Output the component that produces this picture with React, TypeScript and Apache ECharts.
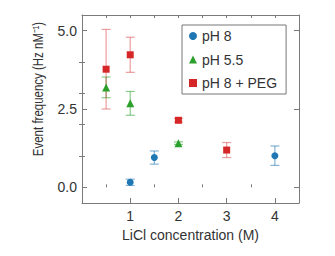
import React, { useEffect, useRef } from "react";
import * as echarts from "echarts";

// Data
const seriesNames = ["pH 8", "pH 5.5", "pH 8 + PEG"];
const ph8X = [1, 1.5, 4];
const ph8Y = [0.16, 0.95, 1.01];
const ph8Err = [0.1, 0.21, 0.31];
const ph55X = [0.5, 1, 2];
const ph55Y = [3.19, 2.68, 1.41];
const ph55Err = [0.33, 0.38, 0.04];
const pegX = [0.5, 1, 2, 3];
const pegY = [3.77, 4.23, 2.14, 1.19];
const pegErr = [1.27, 0.56, 0.06, 0.24];
const yMajorTicks = [0, 2.5, 5];
const yMinorTicks = [1, 2, 3, 4];
const xMajorTicks = [1, 2, 3, 4];
const xMinorTicks = [0.5, 1.5, 2.5, 3.5];
const xTopTicks = [0.5, 1, 1.5, 2, 2.5, 3, 3.5, 4];

const colors = ["#1f77b4", "#2ca02c", "#d62728"];
const barColors = ["rgba(31,119,180,0.55)", "rgba(44,160,44,0.55)", "rgba(214,39,40,0.45)"];
const symbols = ["circle", "triangle", "rect"];

const FONT = "Liberation Sans, Arial, Helvetica, sans-serif";
const AXIS = "#7a7a7a";
const TEXT = "#333333";

export default function App() {
  const ref = useRef<HTMLDivElement>(null);
  useEffect(() => {
    if (!ref.current) return;
    const chart = echarts.init(ref.current, undefined, { renderer: "svg" });

    const groups = [
      { x: ph8X, y: ph8Y, e: ph8Err },
      { x: ph55X, y: ph55Y, e: ph55Err },
      { x: pegX, y: pegY, e: pegErr },
    ];

    const xBase = { type: "value", min: 0, max: 4.5, gridIndex: 0, splitLine: { show: false } };
    const yBase = { type: "value", min: -0.5, max: 5.5, gridIndex: 0, splitLine: { show: false } };
    const line = { show: true, onZero: false, lineStyle: { color: AXIS, width: 1 } };
    const noLine = { show: false };

    const xAxis: any[] = [
      {
        ...xBase,
        position: "bottom",
        axisLine: line,
        axisTick: { show: true, inside: true, length: 5, customValues: xMajorTicks, lineStyle: { color: AXIS } },
        axisLabel: { show: true, customValues: xMajorTicks, margin: 6, color: TEXT, fontSize: 14, fontFamily: FONT },
        name: "LiCl concentration (M)",
        nameLocation: "middle",
        nameGap: 22,
        nameTextStyle: { color: TEXT, fontSize: 14, fontFamily: FONT },
      },
      {
        ...xBase,
        position: "bottom",
        axisLine: noLine,
        axisTick: { show: true, inside: true, length: 3, customValues: xMinorTicks, lineStyle: { color: AXIS } },
        axisLabel: { show: false },
      },
      {
        ...xBase,
        position: "top",
        axisLine: line,
        axisTick: { show: true, inside: true, length: 3, customValues: xTopTicks, lineStyle: { color: AXIS } },
        axisLabel: { show: false },
      },
    ];

    const yAxis: any[] = [
      {
        ...yBase,
        position: "left",
        axisLine: line,
        axisTick: { show: true, inside: true, length: 5, customValues: yMajorTicks, lineStyle: { color: AXIS } },
        axisLabel: {
          show: true,
          customValues: yMajorTicks,
          margin: 5,
          color: TEXT,
          fontSize: 14,
          fontFamily: FONT,
          formatter: (v: number) => v.toFixed(1),
        },
      },
      {
        ...yBase,
        position: "left",
        axisLine: noLine,
        axisTick: { show: true, inside: true, length: 3, customValues: yMinorTicks, lineStyle: { color: AXIS } },
        axisLabel: { show: false },
      },
      {
        ...yBase,
        position: "right",
        axisLine: line,
        axisTick: { show: true, inside: true, length: 5, customValues: yMajorTicks, lineStyle: { color: AXIS } },
        axisLabel: { show: false },
      },
      {
        ...yBase,
        position: "right",
        axisLine: noLine,
        axisTick: { show: true, inside: true, length: 3, customValues: yMinorTicks, lineStyle: { color: AXIS } },
        axisLabel: { show: false },
      },
    ];

    const series: any[] = [];
    groups.forEach((g, i) => {
      const color = barColors[i];
      series.push({
        type: "custom",
        name: "err" + i,
        xAxisIndex: 0,
        yAxisIndex: 0,
        z: 2,
        data: g.x.map((x, k) => [x, g.y[k], g.e[k]]),
        encode: { x: 0, y: 1 },
        renderItem: (params: any, api: any) => {
          const x = api.value(0);
          const y = api.value(1);
          const e = api.value(2);
          const top = api.coord([x, y + e]);
          const bot = api.coord([x, y - e]);
          const hw = 4.5;
          const st = { stroke: color, lineWidth: 1.2 };
          return {
            type: "group",
            children: [
              { type: "line", shape: { x1: top[0], y1: top[1], x2: bot[0], y2: bot[1] }, style: st },
              { type: "line", shape: { x1: top[0] - hw, y1: top[1], x2: top[0] + hw, y2: top[1] }, style: st },
              { type: "line", shape: { x1: bot[0] - hw, y1: bot[1], x2: bot[0] + hw, y2: bot[1] }, style: st },
            ],
          };
        },
      });
      series.push({
        type: "scatter",
        name: seriesNames[i],
        xAxisIndex: 0,
        yAxisIndex: 0,
        z: 5,
        symbol: symbols[i],
        symbolSize: i === 1 ? 8 : 7,
        itemStyle: { color: colors[i], opacity: 1 },
        data: g.x.map((x, k) => [x, g.y[k]]),
      });
    });

    chart.setOption({
      animation: false,
      backgroundColor: "#ffffff",
      grid: { left: 82, right: 36, top: 15, bottom: 53, containLabel: false },
      xAxis,
      yAxis,
      legend: {
        data: seriesNames,
        orient: "vertical",
        left: 182,
        top: 25,
        itemWidth: 8,
        itemHeight: 8,
        itemGap: 9.5,
        padding: [4, 9, 4, 7],
        borderColor: "#777",
        borderWidth: 1,
        backgroundColor: "#ffffff",
        selectedMode: false,
        textStyle: { color: TEXT, fontSize: 14, fontFamily: FONT, padding: [0, 0, 0, 0], lineHeight: 14 },
        z: 10,
      },
      graphic: [
        {
          type: "text",
          x: 38.5,
          y: 89,
          rotation: Math.PI / 2,
          scaleX: 0.82,
          style: {
            text: "Event frequency (Hz nM⁻¹)",
            align: "center",
            verticalAlign: "middle",
            fill: TEXT,
            fontSize: 14,
            fontFamily: FONT,
          },
        },
      ],
      series,
    });
    return () => chart.dispose();
  }, []);
  return <div ref={ref} style={{ width: 335, height: 256, position: "absolute", left: 0, top: 0 }} />;
}
